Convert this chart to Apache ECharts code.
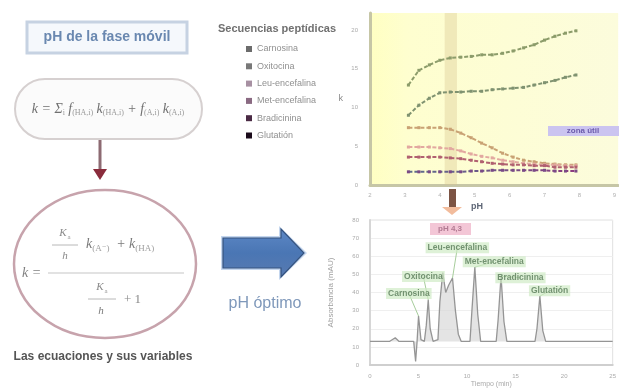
<!DOCTYPE html>
<html>
<head>
<meta charset="utf-8">
<script src="https://cdn.jsdelivr.net/npm/echarts@6/dist/echarts.min.js"></script>
<style>
  html, body { margin: 0; padding: 0; background: #ffffff; }
  #chart { width: 619px; height: 389px; }
</style>
</head>
<body>
<div id="chart"></div>
<script>
// Retention factor k of each peptide versus mobile-phase pH
const peptideNames = ['Carnosina', 'Oxitocina', 'Leu-encefalina', 'Met-encefalina', 'Bradicinina', 'Glutatión'];
const phValues = [3.1, 3.4, 3.7, 4.0, 4.3, 4.6, 4.9, 5.2, 5.5, 5.8, 6.1, 6.4, 6.7, 7.0, 7.3, 7.6, 7.9];
const kCarnosina = [12.9, 14.8, 15.5, 16.1, 16.4, 16.5, 16.6, 16.8, 16.8, 17.0, 17.3, 17.7, 18.1, 18.7, 19.2, 19.6, 19.9];
const kOxitocina = [9.0, 10.3, 11.2, 11.9, 12.0, 12.0, 12.1, 12.1, 12.3, 12.4, 12.5, 12.6, 12.9, 13.2, 13.5, 13.9, 14.2];
const kLeuEnc = [7.4, 7.4, 7.4, 7.4, 7.2, 6.7, 6.1, 5.4, 4.8, 4.1, 3.6, 3.2, 3.0, 2.8, 2.7, 2.6, 2.6];
const kMetEnc = [4.9, 4.9, 4.9, 4.8, 4.7, 4.4, 4.0, 3.7, 3.5, 3.2, 3.0, 2.8, 2.7, 2.6, 2.6, 2.5, 2.5];
const kBradicinina = [3.6, 3.6, 3.6, 3.6, 3.5, 3.4, 3.2, 3.0, 2.8, 2.7, 2.6, 2.6, 2.5, 2.5, 2.3, 2.3, 2.3];
const kGlutation = [1.7, 1.7, 1.7, 1.7, 1.7, 1.7, 1.8, 1.8, 1.9, 1.9, 1.9, 1.9, 1.9, 1.9, 1.8, 1.8, 1.8];
const optimumPhBand = [4.14, 4.49];

// Chromatogram recorded at the optimum pH
const chromTime = [0, 2.0, 2.6, 3.0, 3.4, 4.5, 4.7, 4.85, 5.0, 5.25, 5.6, 5.8, 6.0, 6.2, 6.5,
  7.0, 7.2, 7.5, 7.8, 8.1, 8.5, 8.8, 9.1, 9.4, 10.3, 10.5, 10.8, 11.1, 11.4,
  13.0, 13.2, 13.5, 13.8, 14.1, 17.0, 17.2, 17.5, 17.8, 18.1, 25];
const chromSignal = [13, 13, 15, 13, 13, 13, 2, 13, 27, 14, 13, 22, 36, 20, 13,
  14, 35, 51, 40, 44, 48, 30, 17, 13, 13, 30, 54, 28, 13,
  13, 25, 49, 24, 13, 13, 20, 38, 19, 13, 13];
const chromBaseline = 13;

// Peak annotations: label anchor and the peak it points at
const peakLabelTime = [4.0, 5.5, 9.0, 12.8, 15.5, 18.5];
const peakLabelSignal = [39.5, 48.8, 64.7, 57.0, 48.2, 41.0];
const peakApexTime = [5.0, 6.0, 8.5, 10.8, 13.5, 17.5];
const peakApexSignal = [27, 36, 48, 54, 49, 38];

const legendColors = ['#6c6c6c', '#787878', '#a790a2', '#8a6a82', '#4a2a44', '#1a0a1a'];
const lineColors = ['#8c9c6a', '#7f9270', '#c9a274', '#e2a8a0', '#b06070',
  { type: 'linear', x: 0, y: 0, x2: 1, y2: 0, colorStops: [
    { offset: 0, color: '#5d6e8c' }, { offset: 0.4, color: '#6a5a88' }, { offset: 1, color: '#8e3a80' }] }];
const kSeries = [kCarnosina, kOxitocina, kLeuEnc, kMetEnc, kBradicinina, kGlutation];

const FONT = '"Liberation Sans", "DejaVu Sans", sans-serif';
const SERIF = '"Liberation Serif", "DejaVu Serif", serif';

const chart = echarts.init(document.getElementById('chart'), null, { renderer: 'canvas' });

const kLineSeries = kSeries.map((vals, i) => ({
  name: peptideNames[i],
  type: 'line',
  xAxisIndex: 0,
  yAxisIndex: 0,
  data: phValues.map((ph, j) => [ph, vals[j]]),
  symbol: 'rect',
  symbolSize: 3,
  itemStyle: { color: i === 5 ? '#7a4a86' : lineColors[i] },
  lineStyle: { color: lineColors[i], width: 2, type: [4, 2] },
  z: 3,
  markArea: i === 0 ? {
    silent: true,
    itemStyle: { color: 'rgba(214,196,140,0.35)' },
    data: [[{ xAxis: optimumPhBand[0] }, { xAxis: optimumPhBand[1] }]]
  } : undefined
}));

const option = {
  animation: false,
  backgroundColor: '#ffffff',
  textStyle: { fontFamily: FONT },
  title: {
    text: 'Secuencias peptídicas',
    left: 213, top: 18,
    textStyle: { fontSize: 11, fontWeight: 'bold', color: '#707070', fontFamily: FONT }
  },
  legend: {
    orient: 'vertical',
    left: 241, top: 39,
    icon: 'rect',
    itemWidth: 6, itemHeight: 6, itemGap: 7.3,
    textStyle: { fontSize: 9, color: '#909090', lineHeight: 10, fontFamily: FONT },
    data: peptideNames.map((n, i) => ({ name: n, itemStyle: { color: legendColors[i] } }))
  },
  grid: [
    {
      left: 370, top: 13, width: 249, height: 172, show: true, borderWidth: 0,
      backgroundColor: { type: 'linear', x: 0, y: 0, x2: 1, y2: 0, colorStops: [
        { offset: 0, color: '#ffffc2' }, { offset: 0.15, color: '#fefecf' }, { offset: 1, color: '#fcfcdc' }] }
    },
    { left: 370, top: 220, width: 249, height: 147, show: true, borderWidth: 1, borderColor: '#e0e0e0', backgroundColor: '#ffffff' }
  ],
  xAxis: [
    {
      type: 'value', gridIndex: 0, min: 2, max: 9.11, interval: 1,
      axisLine: { show: true, lineStyle: { color: '#c6c6a6', width: 3 } },
      axisTick: { show: false },
      axisLabel: { fontSize: 6, color: '#b0b0b0', margin: 7, showMaxLabel: false },
      splitLine: { show: false }
    },
    {
      type: 'value', gridIndex: 1, min: 0, max: 25, interval: 5,
      axisLine: { show: true, lineStyle: { color: '#cfcfcf', width: 2 } },
      axisTick: { show: false },
      axisLabel: { fontSize: 6, color: '#aaaaaa', margin: 8 },
      splitLine: { show: false },
      name: 'Tiempo (min)', nameLocation: 'middle', nameGap: 16,
      nameTextStyle: { fontSize: 7, color: '#aaaaaa' }
    }
  ],
  yAxis: [
    {
      type: 'value', gridIndex: 0, min: 0, max: 22.2, interval: 5,
      axisLine: { show: true, lineStyle: { color: '#c6c6a6', width: 3 } },
      axisTick: { show: false },
      axisLabel: { fontSize: 6, color: '#aaaaaa', margin: 12, showMaxLabel: false },
      splitLine: { show: false },
      name: 'k', nameLocation: 'middle', nameGap: 27, nameRotate: 0,
      nameTextStyle: { fontSize: 9, color: '#888888' }
    },
    {
      type: 'value', gridIndex: 1, min: 0, max: 80, interval: 10,
      axisLine: { show: true, lineStyle: { color: '#d6d6d6', width: 2 } },
      axisTick: { show: false },
      axisLabel: { fontSize: 6, color: '#aaaaaa', margin: 11 },
      splitLine: { show: true, lineStyle: { color: '#efefef' } },
      name: 'Absorbancia (mAU)', nameLocation: 'middle', nameGap: 35, nameRotate: 90,
      nameTextStyle: { fontSize: 8, color: '#a0a0a0' }
    }
  ],
  series: kLineSeries.concat([
    {
      name: 'cromatograma',
      type: 'line',
      xAxisIndex: 1, yAxisIndex: 1,
      data: chromTime.map((t, i) => [t, chromSignal[i]]),
      symbol: 'none',
      lineStyle: { color: '#959595', width: 1.3 },
      areaStyle: { color: '#d9d9d9', origin: chromBaseline },
      z: 2
    },
    {
      name: 'guias',
      type: 'lines',
      coordinateSystem: 'cartesian2d',
      xAxisIndex: 1, yAxisIndex: 1,
      silent: true,
      lineStyle: { color: '#9cc690', width: 1, opacity: 0.9 },
      data: peakLabelTime.map((t, i) => ({ coords: [[t, peakLabelSignal[i]], [peakApexTime[i], peakApexSignal[i]]] })),
      z: 3
    },
    {
      name: 'picos',
      type: 'scatter',
      xAxisIndex: 1, yAxisIndex: 1,
      symbolSize: 0,
      silent: true,
      data: peakLabelTime.map((t, i) => ({ value: [t, peakLabelSignal[i]], name: peptideNames[i] })),
      label: {
        show: true, position: 'inside', formatter: '{b}',
        fontSize: 8.5, color: '#587a58', fontWeight: 'bold',
        backgroundColor: 'rgba(206,234,196,0.85)', padding: [1, 2]
      },
      z: 4
    }
  ]),
  graphic: [
    // mobile phase pH box
    { type: 'rect', shape: { x: 27, y: 22, width: 160, height: 31 },
      style: { fill: '#f5f8fc', stroke: '#c6d2e2', lineWidth: 3 } },
    { type: 'text', x: 107, y: 37,
      style: { text: 'pH de la fase móvil', font: 'bold 14px ' + FONT, fill: '#6a88b0', align: 'center', verticalAlign: 'middle' } },

    // global retention model
    { type: 'rect', shape: { x: 15, y: 79, width: 187, height: 60, r: 30 },
      style: { fill: '#fbfbfb', stroke: '#d6d0d0', lineWidth: 2 } },
    { type: 'text', x: 108, y: 109,
      style: {
        text: '{m|k = Σ}{s|i} {m|f}{s|(HA,i)} {m|k}{s|(HA,i)} {m|+ f}{s|(A,i)} {m|k}{s|(A,i)}',
        align: 'center', verticalAlign: 'middle',
        rich: {
          m: { font: 'italic 14px ' + SERIF, fill: '#707070' },
          s: { font: '8px ' + SERIF, fill: '#9a9a9a', padding: [8, 0, 0, 0] }
        }
      } },

    // arrow down to the single-analyte model
    { type: 'line', shape: { x1: 100, y1: 140, x2: 100, y2: 172 }, style: { stroke: '#8d6a72', lineWidth: 3 } },
    { type: 'polygon', shape: { points: [[93, 169], [107, 169], [100, 180]] }, style: { fill: '#8a2c3c' } },

    // single-analyte model
    { type: 'ellipse', shape: { cx: 105, cy: 264, rx: 91, ry: 74 },
      style: { fill: 'none', stroke: '#c7a3ac', lineWidth: 2.5 } },
    { type: 'text', x: 22, y: 273, style: { text: 'k =', font: 'italic 14px ' + SERIF, fill: '#808080', verticalAlign: 'middle' } },
    { type: 'line', shape: { x1: 48, y1: 273, x2: 184, y2: 273 }, style: { stroke: '#e2e2e2', lineWidth: 2 } },
    { type: 'text', x: 63, y: 233, style: { text: 'K', font: 'italic 11px ' + SERIF, fill: '#8a8a8a', align: 'center', verticalAlign: 'middle' } },
    { type: 'text', x: 69, y: 237, style: { text: 'a', font: '7px ' + SERIF, fill: '#9a9a9a', align: 'center', verticalAlign: 'middle' } },
    { type: 'line', shape: { x1: 52, y1: 245, x2: 78, y2: 245 }, style: { stroke: '#b8b8b8', lineWidth: 1 } },
    { type: 'text', x: 65, y: 256, style: { text: 'h', font: 'italic 11px ' + SERIF, fill: '#8a8a8a', align: 'center', verticalAlign: 'middle' } },
    { type: 'text', x: 86, y: 244,
      style: { text: '{m|k}{s|(A⁻)}  {m|+ k}{s|(HA)}', verticalAlign: 'middle',
        rich: { m: { font: 'italic 14px ' + SERIF, fill: '#7a7a7a' }, s: { font: '9px ' + SERIF, fill: '#a0a0a0', padding: [9, 0, 0, 0] } } } },
    { type: 'text', x: 100, y: 287, style: { text: 'K', font: 'italic 11px ' + SERIF, fill: '#8a8a8a', align: 'center', verticalAlign: 'middle' } },
    { type: 'text', x: 106, y: 291, style: { text: 'a', font: '7px ' + SERIF, fill: '#9a9a9a', align: 'center', verticalAlign: 'middle' } },
    { type: 'line', shape: { x1: 88, y1: 299, x2: 116, y2: 299 }, style: { stroke: '#b8b8b8', lineWidth: 1 } },
    { type: 'text', x: 101, y: 311, style: { text: 'h', font: 'italic 11px ' + SERIF, fill: '#7a7a7a', align: 'center', verticalAlign: 'middle' } },
    { type: 'text', x: 124, y: 300, style: { text: '+ 1', font: '13px ' + SERIF, fill: '#8a8a8a', verticalAlign: 'middle' } },

    { type: 'text', x: 103, y: 357,
      style: { text: 'Las ecuaciones y sus variables', font: 'bold 12px ' + FONT, fill: '#555555', align: 'center', verticalAlign: 'middle' } },

    // arrow to the optimum
    { type: 'polygon', shape: { points: [[221, 236], [279, 236], [279, 226], [307, 253], [279, 280], [279, 270], [221, 270]] },
      style: { fill: '#c4d6ee' } },
    { type: 'polygon', shape: { points: [[223, 238], [281, 238], [281, 229], [304, 253], [281, 277], [281, 268], [223, 268]] },
      style: {
        fill: { type: 'linear', x: 0, y: 0, x2: 0, y2: 1, colorStops: [
          { offset: 0, color: '#5d88c6' }, { offset: 0.5, color: '#4a76b4' }, { offset: 1, color: '#587ab0' }] },
        stroke: '#34527e', lineWidth: 1.2 } },
    { type: 'text', x: 265, y: 304,
      style: { text: 'pH óptimo', font: '16px ' + FONT, fill: '#7f98ba', align: 'center', verticalAlign: 'middle' } },

    // link from the k–pH plot to the chromatogram
    { type: 'rect', shape: { x: 449, y: 189, width: 7, height: 19 }, style: { fill: '#7c5444' } },
    { type: 'polygon', shape: { points: [[442, 207], [462, 207], [452, 215]] }, style: { fill: '#f2bc9c' } },
    { type: 'text', x: 471, y: 207, style: { text: 'pH', font: 'bold 9px ' + FONT, fill: '#5e6676', verticalAlign: 'middle' } },
    { type: 'rect', shape: { x: 430, y: 223, width: 41, height: 12 }, style: { fill: '#f3c6d6' }, z: 10 },
    { type: 'text', x: 450, y: 229, z: 11,
      style: { text: 'pH 4,3', font: 'bold 8px ' + FONT, fill: '#b27a92', align: 'center', verticalAlign: 'middle' } },

    // useful region tag on the k–pH plot
    { type: 'rect', shape: { x: 548, y: 126, width: 71, height: 10 }, style: { fill: '#cbc4f0' }, z: 10 },
    { type: 'text', x: 583, y: 131, z: 11,
      style: { text: 'zona útil', font: 'bold 8px ' + FONT, fill: '#6c5cac', align: 'center', verticalAlign: 'middle' } }
  ]
};

chart.setOption(option);
</script>
</body>
</html>
